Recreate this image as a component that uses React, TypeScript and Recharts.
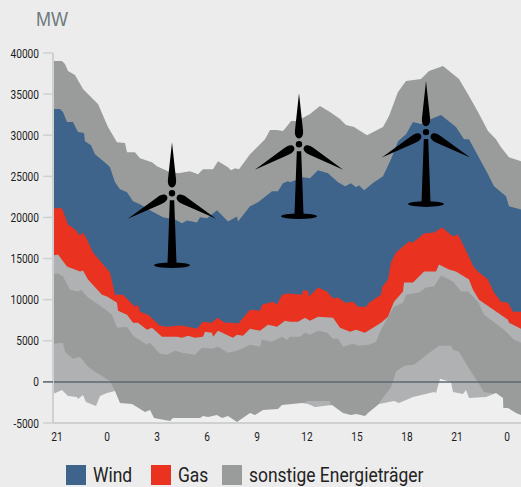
import React from 'react';
import { AreaChart, Area, XAxis, YAxis, ReferenceLine, ReferenceDot, Legend } from 'recharts';

// x values are hours after 21:00 of the first day, y values are MW.
// Every edge has its own readings, so the hour lists differ per edge.
const totalHours = [-0.24, 0.3, 0.48, 0.66, 1.08, 1.56, 1.86, 2.46, 3.06, 3.6, 4.08, 4.2, 4.68, 4.98, 5.7, 6, 6.66, 7.26, 7.98, 8.46, 8.76, 9.36, 9.66, 10.26, 10.44, 10.68, 10.92, 11.58, 12.48, 12.78, 13.2, 13.56, 13.86, 14.04, 14.4, 15.18, 15.78, 16.38, 16.98, 17.34, 17.82, 18.6, 19.56, 19.92, 20.46, 20.94, 21.84, 22.32, 23.16, 24.12, 24.72, 25.26, 25.86, 26.34, 26.64, 27.12, 27.84];
const totalMw = [39040, 39040, 38670, 37820, 37330, 35620, 35010, 33790, 30990, 29160, 29040, 27940, 27940, 27210, 26720, 26230, 25620, 25380, 25620, 25250, 25860, 25860, 26840, 26110, 25740, 25990, 25860, 27690, 29520, 30620, 30620, 30500, 31230, 31720, 31720, 32570, 33550, 32820, 31960, 31230, 30990, 30010, 30990, 32330, 35260, 36600, 36840, 37820, 38430, 36840, 34770, 32820, 30500, 29520, 28550, 27330, 26840];

const windHours = [-0.24, 0.18, 0.36, 0.6, 0.96, 1.26, 1.62, 1.68, 2.04, 2.28, 3, 3.18, 3.48, 3.78, 4.2, 4.56, 4.98, 5.58, 6.36, 7.08, 7.5, 7.8, 8.4, 8.58, 9, 9.6, 10.26, 10.8, 10.86, 11.58, 12.06, 12.9, 13.26, 13.56, 13.86, 13.98, 14.76, 15.18, 15.66, 16.26, 16.86, 17.28, 17.64, 17.94, 18.12, 18.42, 19.02, 19.56, 20.04, 20.46, 20.94, 21.36, 21.84, 22.44, 23.04, 23.94, 24.42, 24.72, 25.86, 26.22, 26.94, 27.12, 27.84];
const windMw = [33180, 33180, 32820, 31600, 31600, 30380, 30260, 29280, 28790, 27690, 26470, 26110, 24280, 23420, 23060, 21960, 21590, 20860, 20010, 19760, 19280, 19640, 19400, 20010, 19890, 20860, 19520, 20130, 19520, 21350, 21840, 23180, 23180, 24160, 24400, 24280, 24890, 24770, 25740, 25380, 24280, 23790, 24160, 23670, 23910, 23300, 24280, 25010, 27080, 29280, 30130, 31600, 31350, 31960, 32450, 30990, 29520, 29520, 25250, 23790, 22570, 21350, 20980];

const gasTopHours = [-0.24, 0.3, 0.66, 1.08, 1.38, 1.56, 1.8, 2.16, 3.18, 3.48, 3.96, 4.68, 4.86, 4.98, 5.46, 6.18, 6.6, 7.2, 7.56, 8.4, 8.76, 9.3, 9.6, 10.08, 10.56, 10.86, 11.58, 12.18, 12.3, 12.96, 13.2, 13.5, 13.86, 14.7, 14.76, 15.06, 15.12, 15.66, 16.2, 16.56, 16.86, 17.28, 17.76, 18.06, 18.54, 18.72, 19.44, 19.5, 19.86, 20.04, 20.34, 21.12, 21.36, 22.02, 22.62, 23.1, 23.76, 24.06, 24.42, 25.02, 25.32, 25.86, 26.22, 26.64, 27.06, 27.36, 27.84];
const gasTopMw = [21110, 21110, 19150, 18540, 17810, 18180, 17320, 15740, 13300, 10610, 10610, 9150, 9390, 8540, 8170, 6830, 6710, 6830, 6830, 6470, 7320, 7200, 7810, 7200, 7200, 7080, 8780, 8660, 9390, 9760, 9390, 10610, 10740, 10610, 11100, 11100, 10370, 11470, 10980, 10130, 10250, 9640, 9760, 9150, 9150, 9640, 10610, 11470, 12440, 14520, 15740, 17080, 16960, 18060, 18180, 18790, 17690, 17930, 16470, 13910, 13300, 12440, 10860, 9760, 9640, 8540, 8540];

const gasBottomHours = [-0.24, 0.06, 0.6, 1.38, 1.56, 1.86, 2.7, 3, 3.6, 3.66, 4.2, 4.56, 4.86, 5.4, 5.7, 6.3, 7.2, 7.5, 7.86, 8.28, 8.76, 8.88, 9.3, 9.36, 9.66, 10.56, 10.8, 11.16, 11.58, 12.18, 12.66, 13.2, 13.68, 13.98, 14.46, 14.88, 15.18, 15.66, 16.56, 16.98, 17.58, 17.94, 18.48, 19.44, 19.86, 20.22, 20.76, 20.82, 21.36, 22.02, 22.74, 22.92, 23.52, 23.94, 24.72, 24.96, 25.32, 27.06, 27.12, 27.84];
const gasBottomMw = [15370, 15490, 14030, 13420, 13540, 12440, 10610, 10370, 9640, 8660, 8170, 7200, 7200, 6340, 6590, 5490, 5490, 5370, 5610, 5370, 5490, 6100, 5980, 5490, 6220, 5370, 5730, 5610, 6470, 6220, 6950, 6710, 7440, 7320, 7320, 7810, 7440, 7930, 7810, 6590, 6100, 6340, 5980, 7200, 7930, 9760, 10980, 12080, 12080, 13420, 13420, 14270, 13660, 13420, 12440, 11220, 10000, 7560, 7200, 6470];

const otherTopHours = [-0.24, 0.06, 0.36, 0.78, 1.26, 1.44, 1.86, 2.76, 3.3, 3.6, 4.2, 4.56, 5.4, 5.58, 6.18, 6.6, 7.08, 7.5, 8.28, 8.7, 9.3, 9.66, 10.26, 10.8, 11.58, 12.18, 12.3, 12.9, 13.5, 13.8, 13.98, 14.58, 14.88, 15.18, 15.66, 16.2, 16.56, 16.86, 17.16, 17.76, 18.06, 18.72, 19.14, 19.44, 20.22, 20.76, 20.94, 21.72, 22.14, 22.62, 23.04, 23.76, 24.24, 24.66, 25.26, 25.62, 26.82, 27.42, 27.84];
const otherTopMw = [13050, 13180, 12810, 11220, 10980, 11220, 10250, 9030, 8170, 6590, 6710, 5610, 4510, 4760, 3420, 3290, 3780, 3540, 3290, 4150, 4030, 4270, 3540, 3780, 4510, 4270, 5120, 4880, 5490, 5120, 5490, 5490, 5980, 5730, 6220, 5980, 5250, 5250, 4270, 4640, 4390, 4510, 4880, 6340, 9150, 9640, 10610, 10860, 11470, 11590, 12930, 12200, 10980, 10980, 9760, 8170, 6340, 5120, 4760];

const otherBottomHours = [-0.24, 0.36, 0.48, 0.96, 1.38, 1.86, 2.28, 3.18, 3.48, 3.54, 14.58, 14.76, 15.06, 16.38, 16.56, 19.08, 19.32, 20.04, 20.34, 20.82, 21.42, 22.26, 22.92, 23.64, 23.76, 24.12, 24.66, 25.62, 26.34, 26.46, 27.84];
const otherBottomMw = [4640, 4760, 3660, 2810, 3050, 1830, 1220, 120, -1100, -5000, -5000, -2560, -2320, -2320, -5000, -5000, -2560, -610, 1220, 1950, 2070, 3420, 4390, 4390, 3900, 3660, 1830, -1220, -1460, -5000, -5000];

const lowestHours = [-0.24, 0.3, 0.66, 1.2, 1.26, 1.56, 1.74, 2.34, 2.58, 3, 3.48, 3.78, 4.5, 5.28, 5.58, 5.82, 6.78, 6.96, 8.58, 8.76, 9.06, 9.6, 9.9, 10.26, 10.8, 11.58, 11.88, 12.36, 13.26, 13.5, 14.7, 15.06, 15.48, 16.5, 17.16, 17.64, 17.94, 18.48, 18.66, 19.32, 20.22, 20.52, 21.36, 22.62, 22.74, 22.98, 23.64, 23.76, 24.36, 24.54, 24.72, 25.74, 26.34, 26.76, 26.78, 27.06, 27.54, 27.84];
const lowestMw = [-1460, -980, -1710, -1830, -2070, -1590, -2440, -2930, -1710, -1340, -1100, -2560, -2680, -3660, -3420, -4390, -4760, -4390, -4390, -4150, -4270, -4030, -4390, -4150, -4880, -3780, -4030, -3420, -3290, -2810, -2560, -2680, -3050, -2810, -3780, -4030, -3900, -4150, -3780, -2680, -2320, -2560, -1830, -1220, -1340, 370, 0, -1220, -1460, -980, -1950, -1830, -1340, -1950, -3170, -3170, -3780, -4030];

const yTicks = [40000, 35000, 30000, 25000, 20000, 15000, 10000, 5000, 0, -5000];
const xTicks = [0, 3, 6, 9, 12, 15, 18, 21, 24, 27];
const legendItems = [
  { name: 'Wind', color: '#3f648c', width: 85 },
  { name: 'Gas', color: '#e93220', width: 71 },
  { name: 'sonstige Energieträger', color: '#9a9c9b', width: 200 },
];
// hub of each turbine, in chart units
const turbines = [
  { h: 6.9, mw: 22940 },
  { h: 14.52, mw: 28910 },
  { h: 22.14, mw: 30380 },
];

const BG = '#ececec';
const DARK = '#9a9c9b';
const LIGHT = '#afb1b3';
const AXIS = '#cfd0d0';
const FONT = 'Roboto, sans-serif';

const points = (hours: number[], values: number[]) => hours.map((h, i) => ({ h, mw: values[i] }));

// painted from the top edge down, each layer covers everything below it
const layers = [
  { id: 'total', data: points(totalHours, totalMw), fill: DARK },
  { id: 'wind', data: points(windHours, windMw), fill: '#3f648c' },
  { id: 'gasTop', data: points(gasTopHours, gasTopMw), fill: '#e93220' },
  { id: 'gasBottom', data: points(gasBottomHours, gasBottomMw), fill: LIGHT },
  { id: 'otherTop', data: points(otherTopHours, otherTopMw), fill: DARK },
  { id: 'otherBottom', data: points(otherBottomHours, otherBottomMw), fill: LIGHT },
  { id: 'lowest', data: points(lowestHours, lowestMw), fill: '#efefef' },
];

function Blade({ angle }: { angle: number }) {
  return (
    <path
      transform={`rotate(${angle})`}
      d="M0,-51 L3.9,-15 C4.8,-9 2.8,-5.8 0,-5.8 C-2.8,-5.8 -4.8,-9 -3.9,-15 Z"
      fill="#000"
    />
  );
}

function Turbine({ cx, cy }: { cx?: number; cy?: number }) {
  return (
    <g transform={`translate(${cx},${cy})`}>
      <Blade angle={0} />
      <Blade angle={120} />
      <Blade angle={240} />
      <circle r={3.2} fill="#000" />
      <path d="M-2.2,7 L2.2,7 L4.5,70 L-4.5,70 Z" fill="#000" />
      <ellipse cx={0} cy={72} rx={18} ry={2.8} fill="#000" />
    </g>
  );
}

// Roboto squeezed sideways, the source uses a condensed face
function NarrowText({ x, y, anchor, children }: any) {
  return (
    <text
      transform={`translate(${x},${y}) scale(0.78,1)`}
      textAnchor={anchor}
      fontSize={13}
      fontFamily={FONT}
      fill="#1c1c1c"
    >
      {children}
    </text>
  );
}

function YTick({ x, y, payload }: any) {
  return (
    <g>
      {payload.value === 0 && <line x1={43} x2={53} y1={y} y2={y} stroke="#5d6970" strokeWidth={1.5} />}
      <NarrowText x={39} y={y + 4.5} anchor="end">
        {payload.value}
      </NarrowText>
    </g>
  );
}

function XTick({ x, y, payload }: any) {
  return (
    <NarrowText x={x} y={y + 10} anchor="middle">
      {(21 + payload.value) % 24}
    </NarrowText>
  );
}

function LegendRow() {
  return (
    <div style={{ display: 'flex', fontFamily: FONT, fontSize: 21, color: '#222' }}>
      {legendItems.map((item) => (
        <div key={item.name} style={{ display: 'flex', alignItems: 'center', width: item.width, whiteSpace: 'nowrap' }}>
          <span style={{ width: 20, height: 20, marginRight: 7, background: item.color, flex: 'none' }} />
          <span style={{ transform: 'scaleX(0.83)', transformOrigin: 'left center' }}>{item.name}</span>
        </div>
      ))}
    </div>
  );
}

export default function App() {
  return (
    <div style={{ position: 'absolute', left: 0, top: 0, width: 521, height: 487, background: BG, overflow: 'hidden' }}>
      <div
        style={{
          position: 'absolute',
          left: 36,
          top: 8,
          fontFamily: '"Liberation Sans", sans-serif',
          fontSize: 20,
          color: '#6e7a80',
          transform: 'scaleX(0.9)',
          transformOrigin: 'left center',
        }}
      >
        MW
      </div>
      <AreaChart width={521} height={487} margin={{ top: 53, right: 0, bottom: 10, left: 0 }}>
        {layers.map((l) => (
          <Area
            key={l.id}
            data={l.data}
            dataKey="mw"
            type="linear"
            baseValue={-5000}
            stroke="none"
            fill={l.fill}
            fillOpacity={1}
            dot={false}
            activeDot={false}
            isAnimationActive={false}
          />
        ))}
        <XAxis
          dataKey="h"
          type="number"
          domain={[-0.24, 27.84]}
          ticks={xTicks}
          tickLine={false}
          axisLine={{ stroke: AXIS, strokeWidth: 2 }}
          tick={XTick}
          height={30}
          allowDataOverflow
        />
        <YAxis
          type="number"
          domain={[-5000, 40000]}
          ticks={yTicks}
          width={53}
          tickSize={10}
          tickLine={{ stroke: AXIS, strokeWidth: 1.5 }}
          axisLine={{ stroke: AXIS, strokeWidth: 2 }}
          tick={YTick}
          interval={0}
          allowDataOverflow
        />
        <ReferenceLine y={0} stroke="#5d6970" strokeWidth={1.5} />
        {turbines.map((t) => (
          <ReferenceDot key={t.h} x={t.h} y={t.mw} shape={Turbine} ifOverflow="visible" />
        ))}
        <Legend
          content={LegendRow}
          wrapperStyle={{ position: 'absolute', left: 66, top: 463, width: 400, height: 24, bottom: 'auto' }}
        />
      </AreaChart>
    </div>
  );
}
